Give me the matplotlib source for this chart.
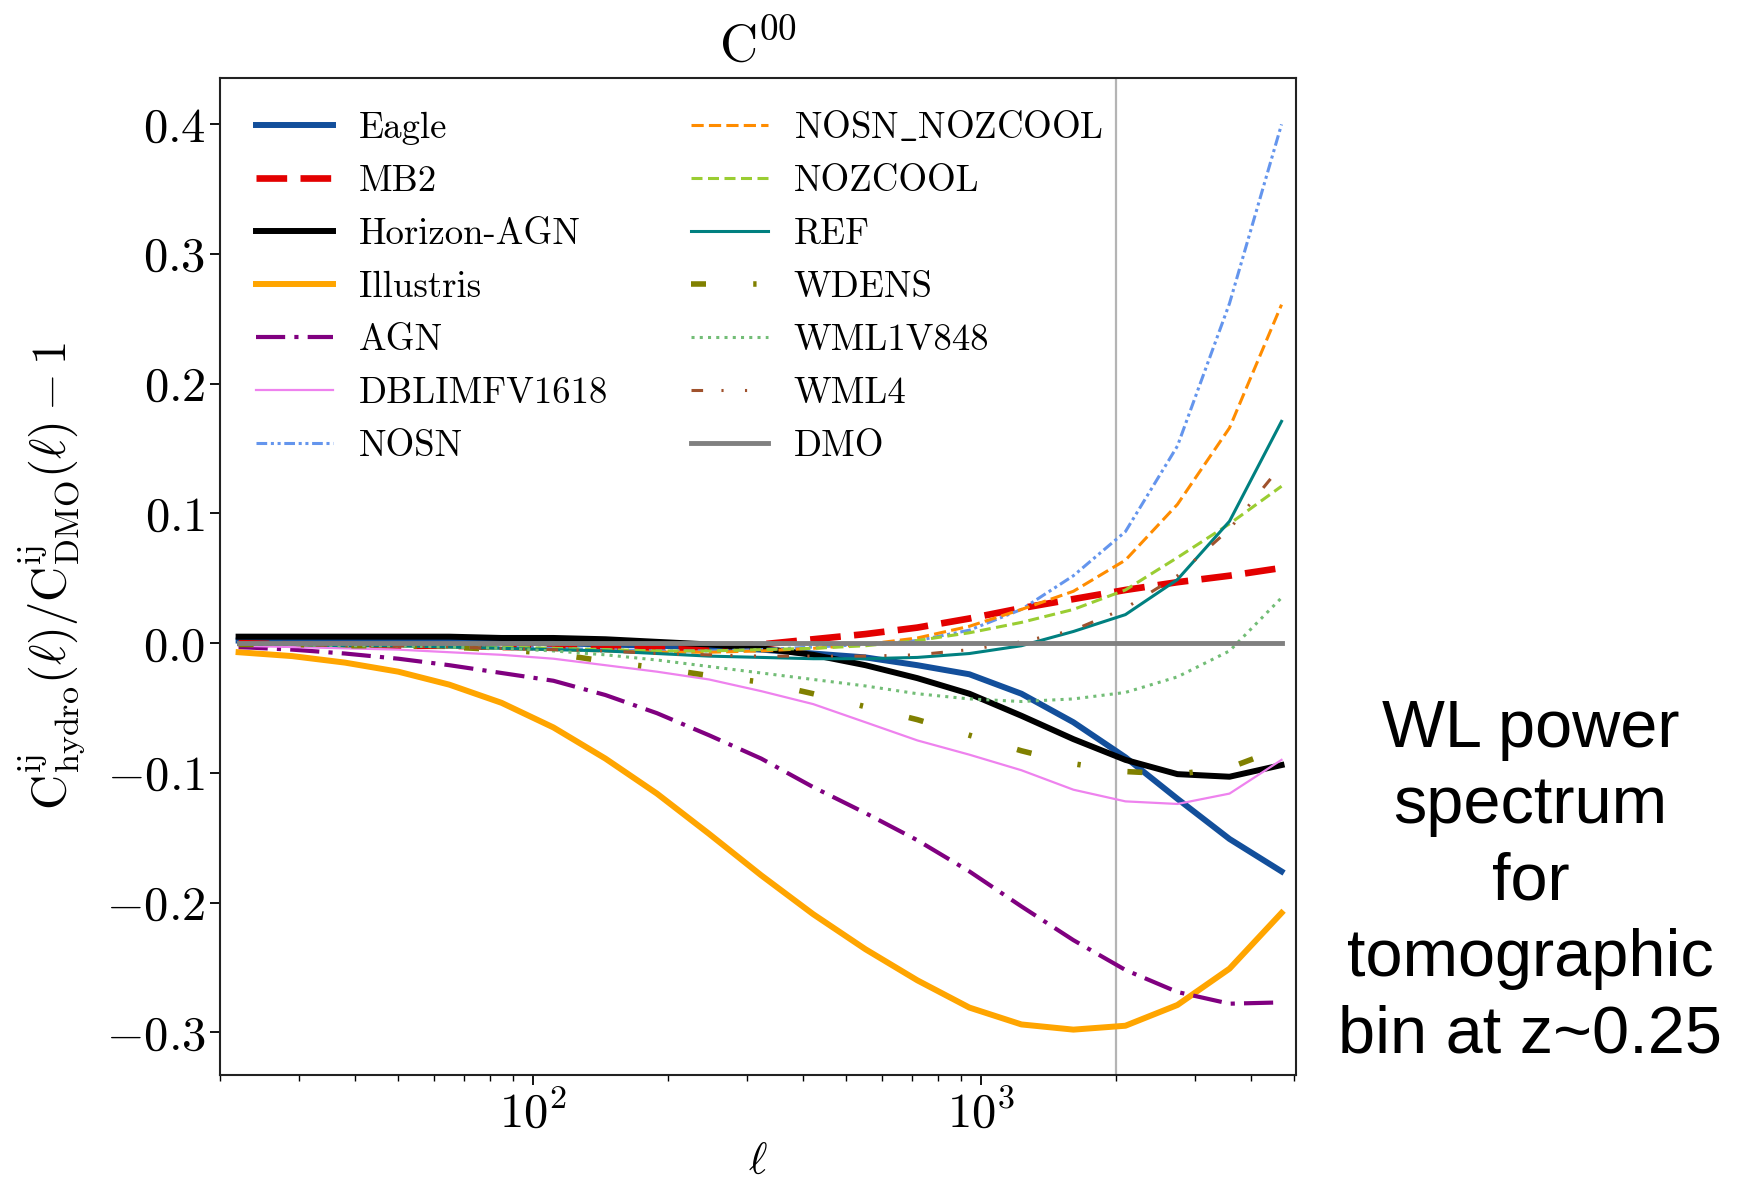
import numpy as np
import matplotlib
matplotlib.use("Agg")
import matplotlib.pyplot as plt

plt.rcParams['font.family'] = 'serif'
plt.rcParams['font.serif'] = ['cmr10']
plt.rcParams['mathtext.fontset'] = 'cm'
plt.rcParams['axes.formatter.use_mathtext'] = True

# multipoles
ell = [22, 29, 38, 50, 65, 85, 111, 145, 189, 247, 323, 422, 552, 721,
       942, 1231, 1608, 2101, 2745, 3588, 4688]

eagle = [0.002, 0.002, 0.002, 0.002, 0.001, 0.001, 0.000, -0.001, -0.002, -0.003, -0.005,
         -0.008, -0.011, -0.017, -0.024, -0.039, -0.061, -0.088, -0.120, -0.151, -0.176]
mb2 = [0.000, -0.001, -0.001, -0.002, -0.002, -0.003, -0.003, -0.004, -0.004, -0.003, -0.001,
       0.003, 0.007, 0.012, 0.019, 0.027, 0.034, 0.041, 0.047, 0.052, 0.058]
horizon = [0.005, 0.005, 0.005, 0.005, 0.005, 0.004, 0.004, 0.003, 0.001, -0.001, -0.004,
           -0.009, -0.017, -0.027, -0.039, -0.056, -0.074, -0.090, -0.101, -0.103, -0.094]
illustris = [-0.007, -0.010, -0.015, -0.022, -0.032, -0.046, -0.065, -0.089, -0.116, -0.147,
             -0.179, -0.209, -0.236, -0.260, -0.281, -0.294, -0.298, -0.295, -0.279, -0.251, -0.208]
agn = [-0.003, -0.005, -0.008, -0.012, -0.017, -0.023, -0.029, -0.040, -0.054, -0.071, -0.089,
       -0.111, -0.131, -0.152, -0.176, -0.203, -0.229, -0.252, -0.269, -0.278, -0.277]
dblimfv = [-0.002, -0.003, -0.004, -0.005, -0.007, -0.009, -0.012, -0.017, -0.022, -0.028,
           -0.037, -0.047, -0.061, -0.075, -0.086, -0.098, -0.113, -0.122, -0.124, -0.116, -0.090]
nosn = [-0.001, -0.001, -0.001, -0.002, -0.002, -0.003, -0.004, -0.005, -0.006, -0.006, -0.005,
        -0.003, -0.001, 0.002, 0.010, 0.026, 0.052, 0.086, 0.152, 0.262, 0.400]
nosn_nozcool = [-0.001, -0.001, -0.002, -0.002, -0.003, -0.004, -0.005, -0.006, -0.007, -0.007,
                -0.006, -0.004, -0.001, 0.004, 0.013, 0.026, 0.040, 0.064, 0.107, 0.166, 0.261]
nozcool = [-0.001, -0.001, -0.002, -0.002, -0.003, -0.003, -0.004, -0.005, -0.006, -0.006, -0.005,
           -0.004, -0.002, 0.002, 0.008, 0.016, 0.026, 0.041, 0.066, 0.092, 0.121]
ref = [-0.001, -0.001, -0.002, -0.002, -0.003, -0.004, -0.005, -0.006, -0.008, -0.010, -0.011,
       -0.012, -0.012, -0.011, -0.008, -0.002, 0.009, 0.022, 0.049, 0.094, 0.171]
wdens = [-0.001, -0.001, -0.002, -0.002, -0.003, -0.005, -0.008, -0.014, -0.019, -0.025, -0.030,
         -0.039, -0.049, -0.059, -0.071, -0.083, -0.093, -0.099, -0.101, -0.096, -0.081]
wml1v848 = [-0.001, -0.001, -0.002, -0.002, -0.003, -0.004, -0.006, -0.009, -0.013, -0.018, -0.023,
            -0.028, -0.033, -0.039, -0.043, -0.045, -0.043, -0.038, -0.026, -0.006, 0.035]
wml4 = [-0.001, -0.001, -0.002, -0.002, -0.003, -0.004, -0.005, -0.006, -0.008, -0.009, -0.010,
        -0.010, -0.010, -0.009, -0.005, 0.001, 0.010, 0.027, 0.052, 0.088, 0.137]
dmo = [0.0] * len(ell)

ell_cut = 2000

fig = plt.figure(figsize=(17.41, 11.88), dpi=100)
ax = fig.add_axes([0.1264, 0.0951, 0.618, 0.8395])

series = [
    ("Eagle", eagle, dict(color='#134f9b', lw=4.3, ls='-')),
    ("MB2", mb2, dict(color='#e30000', lw=4.8, dashes=(4.6, 2.0))),
    ("Horizon-AGN", horizon, dict(color='black', lw=4.3, ls='-')),
    ("Illustris", illustris, dict(color='orange', lw=4.3, ls='-')),
    ("AGN", agn, dict(color='purple', lw=3.0, dashes=(7, 2.2, 1, 2.2))),
    ("DBLIMFV1618", dblimfv, dict(color='violet', lw=1.6, ls='-')),
    ("NOSN", nosn, dict(color='cornflowerblue', lw=2.2, dashes=(3.5, 1.2, 1, 1.2, 1, 1.2))),
    ("NOSN$\\_$NOZCOOL", nosn_nozcool, dict(color='darkorange', lw=2.2, dashes=(4, 1.7))),
    ("NOZCOOL", nozcool, dict(color='yellowgreen', lw=2.2, dashes=(3.6, 1.8))),
    ("REF", ref, dict(color='teal', lw=2.2, ls='-')),
    ("WDENS", wdens, dict(color='olive', lw=4.0, dashes=(2.7, 8.5, 0.6, 8.5))),
    ("WML1V848", wml1v848, dict(color='#72bd76', lw=2.2, dashes=(1, 1.7))),
    ("WML4", wml4, dict(color='sienna', lw=2.2, dashes=(3.8, 6, 0.7, 7, 0.7, 7))),
    ("DMO", dmo, dict(color='gray', lw=3.5, ls='-')),
]

for label, vals, kw in series:
    ax.plot(ell, vals, label=label, **kw)

ax.axvline(ell_cut, color='#b4b4b4', lw=1.6, zorder=0.5)

ax.set_xscale('log')
ax.set_xlim(20, 5050)
ax.set_ylim(-0.333, 0.436)
ax.set_yticks([-0.3, -0.2, -0.1, 0.0, 0.1, 0.2, 0.3, 0.4])

ax.tick_params(axis='both', which='major', labelsize=35, length=7, width=1.3, direction='out')
ax.tick_params(axis='both', which='minor', length=4, width=1.0, direction='out')
for sp in ax.spines.values():
    sp.set_linewidth(1.5)
    sp.set_color('#222222')

ax.set_title(r'$\mathrm{C}^{00}$', fontsize=38, pad=12)
ax.set_xlabel(r'$\ell$', fontsize=32, labelpad=5)
ax.set_ylabel(r'$\mathrm{C}^{\mathrm{ij}}_{\mathrm{hydro}}(\ell)/\mathrm{C}^{\mathrm{ij}}_{\mathrm{DMO}}(\ell)-1$',
              fontsize=35, labelpad=14)

ax.legend(ncol=2, loc='upper left', bbox_to_anchor=(0.033, 0.968), frameon=False,
          fontsize=26.5, handlelength=2.1, handletextpad=0.7, columnspacing=2.25,
          labelspacing=0.54, borderaxespad=0.0, borderpad=0.0)

fig.text(0.879, 0.257, "WL power\nspectrum\nfor\ntomographic\nbin at z~0.25",
         ha='center', va='center', fontsize=48, family='Liberation Sans', linespacing=1.3)

fig.savefig('out.png', dpi=100)
